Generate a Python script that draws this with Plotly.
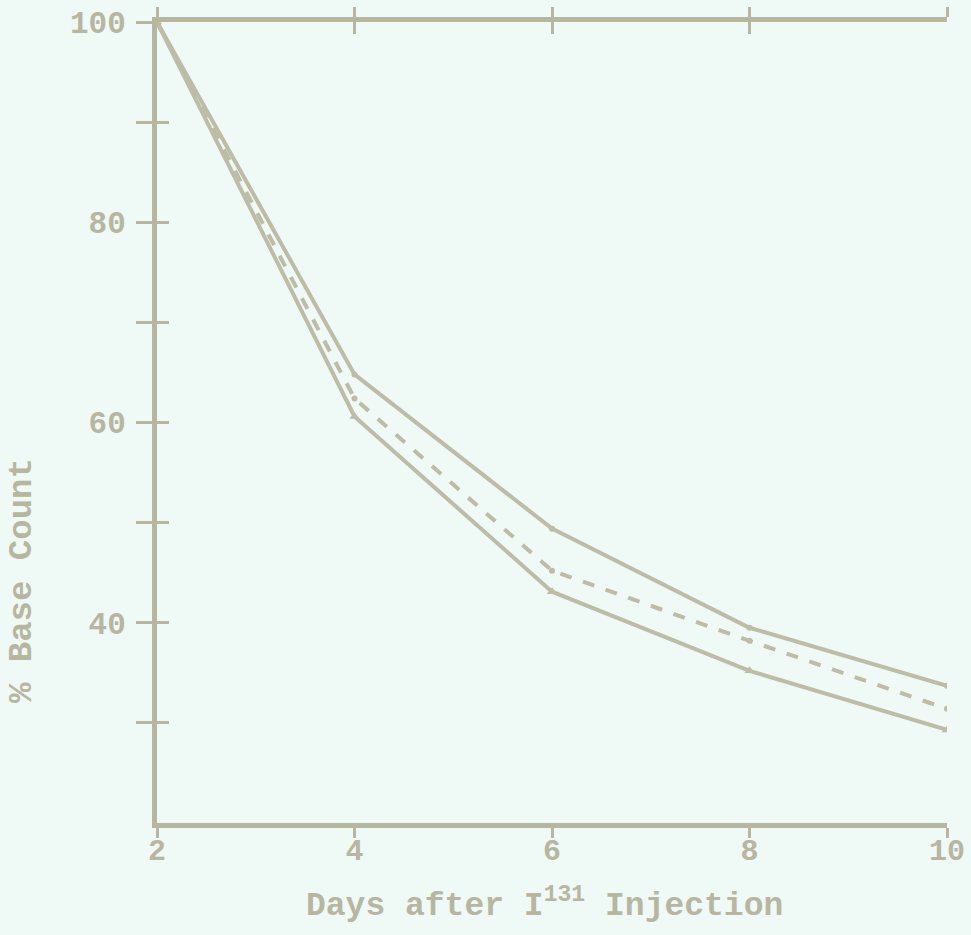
import plotly.graph_objects as go

days = [2, 4, 6, 8, 10]
upper = [100, 64.8, 49.4, 39.5, 33.7]
middle = [100, 62.4, 45.2, 38.2, 31.4]
lower = [100, 60.6, 43.1, 35.2, 29.3]

x_ticks = [2, 4, 6, 8, 10]
x_labels = ["2", "4", "6", "8", "10"]
y_major = [40, 60, 80, 100]
y_major_labels = ["40", "60", "80", "100"]
y_minor = [30, 50, 70, 90]
y_all = [30, 40, 50, 60, 70, 80, 90, 100]

BG = "#eff9f5"
AX = "#b6b6a1"
LN = "#bcbca7"
FONT = "Liberation Mono"

fig = go.Figure()
fig.add_trace(go.Scatter(x=days, y=upper, mode="lines+markers",
                         line=dict(color=LN, width=4),
                         marker=dict(size=6, color=LN)))
fig.add_trace(go.Scatter(x=days, y=middle, mode="lines+markers",
                         line=dict(color=LN, width=4, dash="dash"),
                         marker=dict(size=6, color=LN)))
fig.add_trace(go.Scatter(x=days, y=lower, mode="lines+markers",
                         line=dict(color=LN, width=4),
                         marker=dict(size=9, color=LN, symbol="triangle-up")))
# invisible trace to anchor overlay axes
fig.add_trace(go.Scatter(x=[days[0]], y=[upper[0]], mode="markers",
                         marker=dict(opacity=0), xaxis="x2", yaxis="y2",
                         hoverinfo="skip"))

fig.update_layout(
    width=971, height=935,
    margin=dict(l=157, r=24, t=22, b=112),
    paper_bgcolor=BG, plot_bgcolor=BG,
    showlegend=False,
    font=dict(family=FONT, color=AX, size=28),
    xaxis=dict(range=[2, 10], tickvals=x_ticks, ticktext=x_labels,
               showgrid=False, zeroline=False, showline=True, automargin=False,
               linecolor=AX, linewidth=5, mirror="ticks",
               ticks="outside", ticklen=10, tickwidth=3, tickcolor=AX,
               ticklabelstandoff=-14,
               tickfont=dict(family=FONT, size=30, color=AX, weight="bold")),
    xaxis2=dict(range=[2, 10], tickvals=x_ticks, overlaying="x", side="top",
                showgrid=False, zeroline=False, showline=False, automargin=False,
                ticks="inside", ticklen=12, tickwidth=3, tickcolor=AX,
                showticklabels=False),
    yaxis=dict(range=[20, 100], tickvals=y_major, ticktext=y_major_labels,
               showgrid=False, zeroline=False, showline=True, automargin=False,
               linecolor=AX, linewidth=5,
               ticks="outside", ticklen=16, tickwidth=3, tickcolor=AX,
               minor=dict(tickvals=y_minor, ticks="outside", ticklen=16,
                          tickwidth=3, tickcolor=AX, showgrid=False),
               ticklabelstandoff=4,
               tickfont=dict(family=FONT, size=31, color=AX, weight="bold")),
    yaxis2=dict(range=[20, 100], tickvals=y_all, overlaying="y", side="left",
                showgrid=False, zeroline=False, showline=False, automargin=False,
                ticks="inside", ticklen=12, tickwidth=3, tickcolor=AX,
                showticklabels=False),
    annotations=[
        dict(text="<b>Days after I<sup>131</sup> Injection</b>", xref="paper", yref="paper",
             x=0.49, y=-0.1, xanchor="center", yanchor="middle", showarrow=False,
             font=dict(family=FONT, size=33, color=AX)),
        dict(text="<b>% Base Count</b>", xref="paper", yref="paper",
             x=-0.17, y=0.303, xanchor="center", yanchor="middle", showarrow=False,
             textangle=-90, font=dict(family=FONT, size=34, color=AX)),
    ],
)

fig.write_html("out.html")
